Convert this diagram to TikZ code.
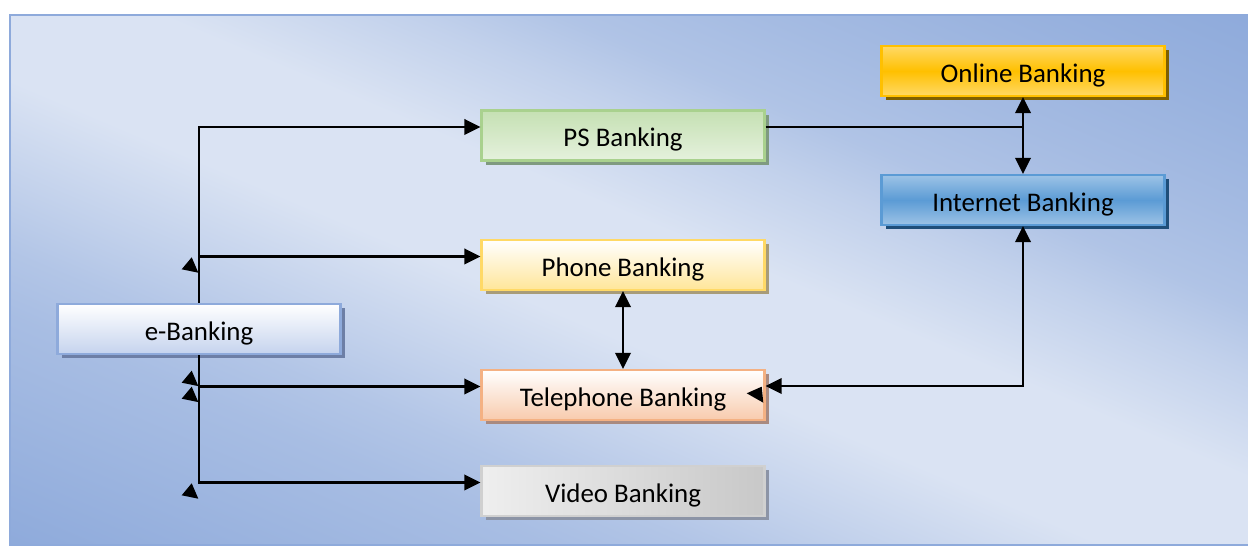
\documentclass[tikz,border=0pt]{standalone}
\usepackage{fontspec}
\setmainfont{Carlito}
\usepackage{tikz}
\usetikzlibrary{arrows.meta,shadows}
\definecolor{bgdark}{HTML}{8EAADB}
\definecolor{bglight}{HTML}{DAE3F3}
\definecolor{ebline}{HTML}{8EAADB}
\definecolor{ebfill}{HTML}{C5D3EE}
\definecolor{ebshadow}{HTML}{6D7FA6}
\definecolor{psline}{HTML}{A9D18E}
\definecolor{psfill}{HTML}{C5E0B3}
\definecolor{psshadow}{HTML}{7F9A80}
\definecolor{phline}{HTML}{FFD966}
\definecolor{phfill}{HTML}{FFE699}
\definecolor{phshadow}{HTML}{A89C78}
\definecolor{tpline}{HTML}{F4B183}
\definecolor{tpfill}{HTML}{F8CBAD}
\definecolor{tpshadow}{HTML}{A98A80}
\definecolor{vbline}{HTML}{D0D0D0}
\definecolor{vbfill}{HTML}{C8C8C8}
\definecolor{vbshadow}{HTML}{8C94A6}
\definecolor{online}{HTML}{FFC000}
\definecolor{onlight}{HTML}{FFD966}
\definecolor{onshadow}{HTML}{7F6000}
\definecolor{ibline}{HTML}{5B9BD5}
\definecolor{iblight}{HTML}{9DC3E6}
\definecolor{ibshadow}{HTML}{1F4E79}
\pgfdeclarehorizontalshading{bgwash}{100bp}{color(0bp)=(bgdark); color(25bp)=(bgdark);
    color(32bp)=(bgdark!78!bglight); color(36bp)=(bgdark!66!bglight); color(39bp)=(bgdark!52!bglight);
    color(42bp)=(bgdark!32!bglight); color(47bp)=(bglight); color(53bp)=(bglight);
    color(58bp)=(bgdark!32!bglight); color(61bp)=(bgdark!55!bglight); color(65bp)=(bgdark!70!bglight);
    color(70bp)=(bgdark!86!bglight); color(75bp)=(bgdark); color(100bp)=(bgdark)}

\begin{document}
\begin{tikzpicture}[
    box/.style={rectangle, draw, line width=1.2pt, minimum width=5.66cm, minimum height=1cm,
        inner sep=0pt, text height=0.46cm, text depth=0cm, font=\fontsize{15.3}{17}\selectfont},
    boxshadow/.style={drop shadow={shadow xshift=0.08cm, shadow yshift=-0.09cm, fill=#1, opacity=1}},
    wire/.style={line width=1.15pt},
    link/.style={wire, -{Triangle[length=3.2mm,width=3.1mm]}},
    twoway/.style={wire, {Triangle[length=3.2mm,width=3.1mm]}-{Triangle[length=3.2mm,width=3.1mm]}}
]
    \useasboundingbox (0,0) rectangle (24.96,10.94);
    \begin{scope}
        \clip (0.2,0.04) rectangle (25.1,10.64);
        \begin{scope}[transform canvas={shift={(12.65,5.34)}, rotate=67}]
            \shade[shading=bgwash] (-9.8,-13.6) rectangle (9.8,13.6);
        \end{scope}
    \end{scope}
    \draw[bgdark, line width=1.2pt] (0.2,0.04) rectangle (25.1,10.64);

    \node[box, draw=ebline, top color=white, bottom color=ebfill, boxshadow=ebshadow] (eb) at (3.98,4.36) {e-Banking};
    \node[box, draw=psline, top color=psfill, bottom color=psfill!45!white, boxshadow=psshadow] (ps) at (12.46,8.23) {PS Banking};
    \node[box, draw=phline, top color=white, bottom color=phfill, boxshadow=phshadow] (ph) at (12.46,5.64) {Phone Banking};
    \node[box, draw=tpline, top color=white, bottom color=tpfill, boxshadow=tpshadow] (tp) at (12.46,3.04) {Telephone Banking};
    \node[box, draw=vbline, left color=vbfill!30!white, right color=vbfill, boxshadow=vbshadow] (vb) at (12.46,1.12) {Video Banking};
    \node[box, draw=online, top color=onlight, bottom color=onlight, middle color=online, boxshadow=onshadow] (on) at (20.46,9.52) {Online Banking};
    \node[box, draw=ibline, top color=iblight, bottom color=iblight, middle color=ibline, boxshadow=ibshadow] (ib) at (20.46,6.94) {Internet Banking};

    \draw[link] (eb.north) |- ([yshift=1.7mm]ps.west);
    \draw[link] (eb.north) |- ([yshift=1.7mm]ph.west);
    \draw[link] (eb.south) |- ([yshift=1.7mm]tp.west);
    \draw[link] (eb.south) |- ([yshift=1.7mm]vb.west);
    \draw[wire] ([yshift=1.7mm]ps.east) -- ([yshift=1.7mm]ps.east -| on.south);
    \draw[twoway] (on.south) -- (ib.north);
    \draw[twoway] (ph.south) -- (tp.north);
    \draw[twoway] (ib.south) |- ([yshift=1.8mm]tp.east);

    \foreach \y in {5.794, 3.526, 3.206, 1.274}
        \fill (3.834,\y) -- ++(-0.2,-0.24) -- ++(0.332,-0.068) -- cycle;
    \fill (14.934,3.074) -- (15.234,3.206) -- (15.266,2.886) -- cycle;
\end{tikzpicture}
\end{document}
